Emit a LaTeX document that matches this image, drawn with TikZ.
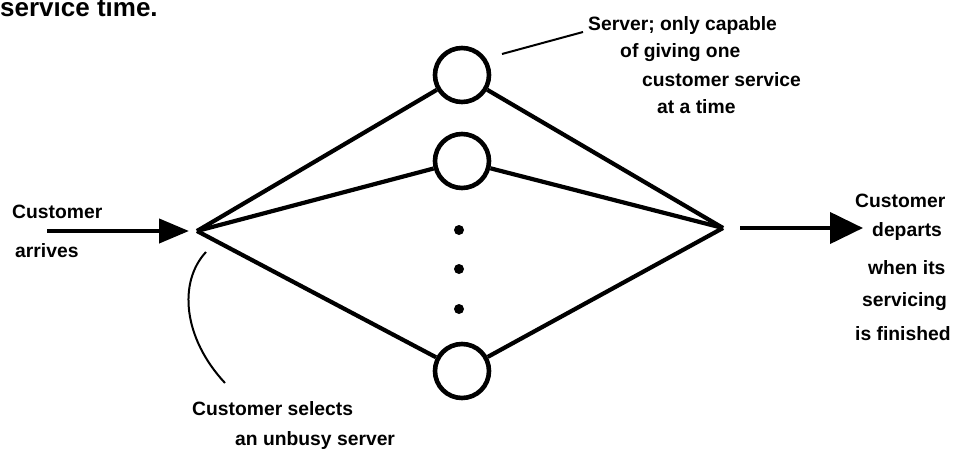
\documentclass[tikz,border=0pt]{standalone}
\usepackage{fontspec}
\setmainfont{Liberation Sans}
\usetikzlibrary{arrows.meta}
\begin{document}
\begin{tikzpicture}[x=1pt,y=-1pt,
  server/.style={circle,draw,line width=4.6pt,minimum size=54pt,inner sep=0pt},
  edge/.style={line width=4.2pt},
  leader/.style={line width=2pt},
  lbl/.style={anchor=base west,inner sep=0pt,font=\bfseries\fontsize{19.3}{22}\selectfont},
  dot/.style={circle,fill,inner sep=0pt,minimum size=10pt}]
\useasboundingbox (0,0) rectangle (961,450);
% title fragment
\node[anchor=base west,inner sep=0pt,font=\bfseries\fontsize{26}{30}\selectfont] (title) at (0,16) {service time.};
% vertices
\coordinate (L) at (197,231);
\coordinate (R) at (723,228);
% servers
\node[server] (s1) at (462,75) {};
\node[server] (s2) at (462,161) {};
\node[server] (s3) at (462,371) {};
\node[dot] (d1) at (459,230) {};
\node[dot] (d2) at (459,269) {};
\node[dot] (d3) at (459,309) {};
% edges
\foreach \s in {s1,s2,s3}{
  \draw[edge] (L) -- (\s);
  \draw[edge] (\s) -- (R);
}
% arrows
\coordinate (ain) at (47,231);
\draw[line width=4.2pt,-{Triangle[length=30pt,width=24pt]}] (ain) -- ([xshift=-8pt]L);
\coordinate (aout) at (863,228);
\draw[line width=4.2pt,-{Triangle[length=33pt,width=31pt]}] ([xshift=17pt]R) -- (aout);
% leaders
\coordinate (t1) at (502,54);
\coordinate (t2) at (583,32);
\draw[leader] (t1) -- (t2);
\coordinate (b1) at (206,252);
\coordinate (b2) at (225,383);
\draw[leader] (b1) .. controls (178,282) and (183,338) .. (b2);
% labels
\node[lbl] (srv1) at (588,30) {Server; only capable};
\node[lbl] (srv2) at (620,57) {of giving one};
\node[lbl] (srv3) at (642,86) {customer service};
\node[lbl] (srv4) at (657,113) {at a time};
\node[lbl] (arr1) at (12,218) {Customer};
\node[lbl] (arr2) at (15,257) {arrives};
\node[lbl] (dep1) at (855,207) {Customer};
\node[lbl] (dep2) at (872,236) {departs};
\node[lbl] (dep3) at (868,274) {when its};
\node[lbl] (dep4) at (862,306) {servicing};
\node[lbl] (dep5) at (855,340) {is finished};
\node[lbl] (sel1) at (192,415) {Customer selects};
\node[lbl] (sel2) at (235,445) {an unbusy server};
\end{tikzpicture}
\end{document}
